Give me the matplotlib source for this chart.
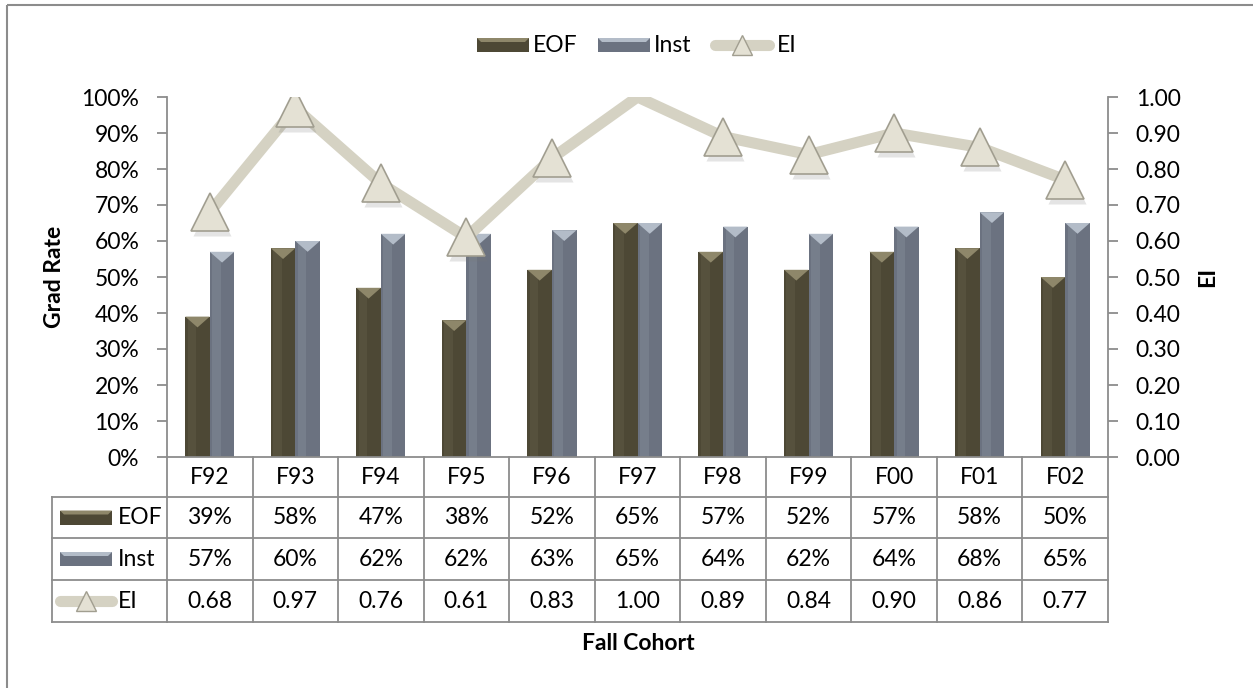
import numpy as np
import matplotlib.pyplot as plt
import matplotlib.transforms as mtrans
from matplotlib.patches import Rectangle, Polygon
from matplotlib.lines import Line2D

plt.rcParams['font.family'] = ['Lato', 'DejaVu Sans']

# Grad rates and EI by fall cohort
cohorts = ['F92', 'F93', 'F94', 'F95', 'F96', 'F97', 'F98', 'F99', 'F00', 'F01', 'F02']
eof = [0.39, 0.58, 0.47, 0.38, 0.52, 0.65, 0.57, 0.52, 0.57, 0.58, 0.50]
inst = [0.57, 0.60, 0.62, 0.62, 0.63, 0.65, 0.64, 0.62, 0.64, 0.68, 0.65]
ei = [0.68, 0.97, 0.76, 0.61, 0.83, 1.00, 0.89, 0.84, 0.90, 0.86, 0.77]

yticks_rate = np.arange(0, 1.01, 0.1)
yticks_ei = np.arange(0, 1.01, 0.1)

EOF_C, EOF_TOP, EOF_HI = '#4d4835', '#8e876a', '#5a5541'
INST_C, INST_TOP, INST_HI = '#6b7280', '#b3bcc8', '#7c8491'
EI_LINE, EI_FACE, EI_EDGE = '#d5d2c3', '#e4e1d4', '#a19e90'
GRID_C = '#8c8c8c'
FS = 16.5

W, H = 1253, 688
fig = plt.figure(figsize=(W / 100, H / 100), dpi=100)
# pixel coords, y measured from the top
px = mtrans.Affine2D().scale(1 / W, -1 / H).translate(0, 1) + fig.transFigure

ax = fig.add_axes([167 / W, 1 - 457 / H, (1108 - 167) / W, (457 - 97) / H])
x = np.arange(len(cohorts))
bw = 0.287

b1 = ax.bar(x - bw / 2, eof, bw, color=EOF_C, zorder=2)
b2 = ax.bar(x + bw / 2, inst, bw, color=INST_C, zorder=2)

# bevel look on the bars
for bars, hi, top in [(b1, EOF_HI, EOF_TOP), (b2, INST_HI, INST_TOP)]:
    for p in bars:
        x0, w, h = p.get_x(), p.get_width(), p.get_height()
        ax.add_patch(Rectangle((x0 + w * 0.1, 0), w * 0.35, h, color=hi, lw=0, zorder=2.1, alpha=0.7))
        ax.add_patch(Polygon([(x0, h), (x0 + w, h), (x0 + w / 2, h - 0.03)],
                             closed=True, color=top, lw=0, zorder=2.2))

ax.set_xlim(-0.5, len(cohorts) - 0.5)
ax.set_ylim(0, 1)
ax.set_yticks(yticks_rate)
ax.set_yticklabels([f'{v * 100:.0f}%' for v in yticks_rate], fontsize=FS)
ax.tick_params(axis='y', length=7, width=1.3, color=GRID_C, pad=13)
ax.tick_params(axis='x', length=0, labelbottom=False)
for s in ['top', 'right']:
    ax.spines[s].set_visible(False)
for s in ['left', 'bottom']:
    ax.spines[s].set_color(GRID_C)
    ax.spines[s].set_linewidth(1.3)
ax.set_ylabel('Grad Rate', fontsize=FS, fontweight='bold', labelpad=12)

ax2 = ax.twinx()
ax2.set_ylim(0, 1)
ax2.set_yticks(yticks_ei)
ax2.set_yticklabels([f'{v:.2f}' for v in yticks_ei], fontsize=FS)
ax2.tick_params(axis='y', length=7, width=1.3, color=GRID_C, pad=13)
for s in ['top', 'left', 'bottom']:
    ax2.spines[s].set_visible(False)
ax2.spines['right'].set_color(GRID_C)
ax2.spines['right'].set_linewidth(1.3)
ax2.set_ylabel('EI', fontsize=FS, fontweight='bold', labelpad=12)

shown = [i for i, v in enumerate(ei) if v < ax2.get_ylim()[1]]
ax2.plot(x, ei, color=EI_LINE, lw=8, solid_joinstyle='miter', zorder=3)
shadow = mtrans.offset_copy(ax2.transData, fig=fig, x=2, y=-5, units='dots')
ax2.plot(x, ei, ls='none', marker='^', ms=28, mfc='#7a7a7a', mec='none', alpha=0.2,
         markevery=shown, transform=shadow, zorder=3.5)
ax2.plot(x, ei, ls='none', marker='^', ms=28, mfc=EI_FACE, mec=EI_EDGE, mew=1.2,
         markevery=shown, zorder=4)


def draw_key(kind, xc, yc, wide=52):
    if kind == 'line':
        fig.add_artist(Line2D([xc - wide / 2 + 4, xc + wide / 2 - 4], [yc, yc], transform=px,
                              color=EI_LINE, lw=8, solid_capstyle='round'))
        fig.add_artist(Line2D([xc], [yc], transform=px, marker='^', ms=14,
                              mfc=EI_FACE, mec=EI_EDGE, mew=1))
        return
    face, top = (EOF_C, EOF_TOP) if kind == 'eof' else (INST_C, INST_TOP)
    fig.add_artist(Rectangle((xc - wide / 2, yc - 7), wide, 14, transform=px, color=face, lw=0))
    fig.add_artist(Polygon([(xc - wide / 2, yc - 7), (xc + wide / 2, yc - 7),
                            (xc + wide / 2 - 4, yc - 3), (xc - wide / 2 + 4, yc - 3)],
                           closed=True, transform=px, color=top, lw=0))


# legend on top
legend_items = [('eof', 'EOF', 503, 52), ('inst', 'Inst', 624, 52), ('line', 'EI', 742, 62)]
for kind, label, xc, wide in legend_items:
    draw_key(kind, xc, 45, wide)
    fig.text((xc + wide / 2 + 4) / W, 1 - 45 / H, label, fontsize=FS, va='center', ha='left')

# data table under the plot
tx = mtrans.blended_transform_factory(ax.transData, px)
rows_y = [457, 497, 538, 580, 622]
edges = np.arange(len(cohorts) + 1) - 0.5
for e in edges:
    fig.add_artist(Line2D([e, e], [rows_y[0], rows_y[-1]], transform=tx, color=GRID_C, lw=1.3))
for yy in rows_y[1:]:
    fig.add_artist(Line2D([52, 167], [yy, yy], transform=px, color=GRID_C, lw=1.3))
    fig.add_artist(Line2D([edges[0], edges[-1]], [yy, yy], transform=tx, color=GRID_C, lw=1.3))
fig.add_artist(Line2D([52, 52], [rows_y[1], rows_y[-1]], transform=px, color=GRID_C, lw=1.3))

row_text = [cohorts,
            [f'{v * 100:.0f}%' for v in eof],
            [f'{v * 100:.0f}%' for v in inst],
            [f'{v:.2f}' for v in ei]]
for r, labels in enumerate(row_text):
    yc = (rows_y[r] + rows_y[r + 1]) / 2
    for i, t in enumerate(labels):
        fig.text(x[i], yc, t, transform=tx, fontsize=FS, ha='center', va='center')

for r, (kind, label) in enumerate([('eof', 'EOF'), ('inst', 'Inst'), ('line', 'EI')], start=1):
    yc = (rows_y[r] + rows_y[r + 1]) / 2
    draw_key(kind, 86, yc, 60 if kind == 'line' else 52)
    fig.text(118 / W, 1 - yc / H, label, fontsize=FS, ha='left', va='center')

fig.text(638 / W, 1 - 643 / H, 'Fall Cohort', fontsize=FS, fontweight='bold', ha='center', va='center')

# chart border
fig.add_artist(Rectangle((7, 5), 1260, 700, transform=px, fill=False, ec=GRID_C, lw=1.5))

fig.savefig('out.png', dpi=100)
